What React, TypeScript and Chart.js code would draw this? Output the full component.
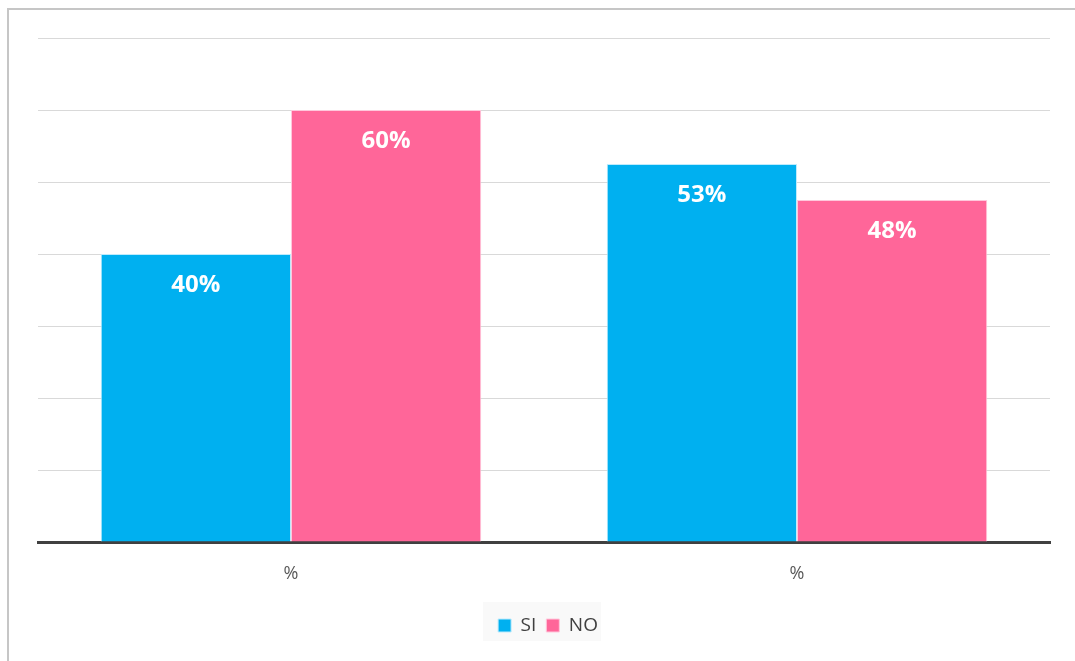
import React, { useEffect, useRef } from "react";
import { Chart, registerables } from "chart.js";

Chart.register(...registerables);

const categories = ["%", "%"];
const siValues = [40, 52.5];
const noValues = [60, 47.5];
const yTicks = [0, 10, 20, 30, 40, 50, 60, 70];

const BLUE = "#00B0F0";
const PINK = "#FF6699";
const LEGEND_PAD = 10;

const valueLabels = {
  id: "valueLabels",
  afterDatasetsDraw(chart: any) {
    const ctx = chart.ctx;
    ctx.save();
    ctx.font = "bold 24px 'Open Sans'";
    ctx.fillStyle = "#ffffff";
    ctx.textAlign = "center";
    ctx.textBaseline = "middle";
    chart.data.datasets.forEach((ds: any, di: number) => {
      const meta = chart.getDatasetMeta(di);
      meta.data.forEach((el: any, i: number) => {
        const v = ds.data[i];
        ctx.fillText(Math.round(v) + "%", el.x, el.y + 31.5);
      });
    });
    ctx.restore();
  },
};

const legendBg = {
  id: "legendBg",
  afterLayout(chart: any) {
    const lg = chart.legend;
    if (!lg) return;
    lg.left += 4;
    lg.right += 4;
  },
  beforeDraw(chart: any) {
    const lg = chart.legend;
    if (!lg || !lg.lineWidths || !lg.legendHitBoxes || !lg.legendHitBoxes.length) return;
    const lw = lg.lineWidths[0];
    const x0 = (lg.left + LEGEND_PAD + lg.right - lw) / 2;
    const h = lg.legendHitBoxes[0];
    const ctx = chart.ctx;
    ctx.save();
    ctx.fillStyle = "#f9f9f9";
    ctx.fillRect(x0 - 15, h.top - 14, lw - LEGEND_PAD + 18, h.height + 20);
    ctx.restore();
  },
};

export default function App() {
  const ref = useRef<HTMLCanvasElement | null>(null);
  useEffect(() => {
    if (!ref.current) return;
    const chart = new Chart(ref.current, {
      type: "bar",
      data: {
        labels: categories,
        datasets: [
          {
            label: "SI",
            data: siValues,
            backgroundColor: BLUE,
            borderColor: "rgba(190,235,252,1)",
            borderWidth: 1,
            barPercentage: 1,
            categoryPercentage: 0.752,
          },
          {
            label: "NO",
            data: noValues,
            backgroundColor: PINK,
            borderColor: "rgba(255,200,220,1)",
            borderWidth: 1,
            barPercentage: 1,
            categoryPercentage: 0.752,
          },
        ],
      },
      options: {
        animation: false,
        responsive: false,
        maintainAspectRatio: false,
        layout: { padding: { left: 29, right: 25, top: 28, bottom: 16 } },
        scales: {
          x: {
            grid: { display: false },
            border: { display: true, color: "#404040", width: 3 },
            ticks: {
              color: "#595959",
              font: { family: "'Open Sans'", size: 18 },
              padding: 13,
            },
            afterFit: (s: any) => {
              s.height = 64;
            },
          },
          y: {
            min: 0,
            max: 70,
            afterBuildTicks: (s: any) => {
              s.ticks = yTicks.map((v) => ({ value: v }));
            },
            grid: { color: "#d9d9d9", lineWidth: 1, drawTicks: false },
            border: { display: false },
            ticks: { display: false },
            afterFit: (s: any) => {
              s.width = 0;
            },
          },
        },
        plugins: {
          legend: {
            position: "bottom",
            labels: {
              boxWidth: 13,
              boxHeight: 13,
              color: "#404040",
              font: { family: "'Open Sans'", size: 19 },
              padding: LEGEND_PAD,
            },
          },
          tooltip: { enabled: false },
        },
      },
      plugins: [valueLabels, legendBg],
    });
    return () => chart.destroy();
  }, []);
  return (
    <div
      style={{
        position: "fixed",
        left: 7,
        top: 8,
        width: 1068,
        height: 653,
        borderLeft: "2px solid #c6c6c6",
        borderTop: "2px solid #c6c6c6",
        background: "#fff",
      }}
    >
      <canvas ref={ref} width={1066} height={651} style={{ display: "block" }} />
    </div>
  );
}
